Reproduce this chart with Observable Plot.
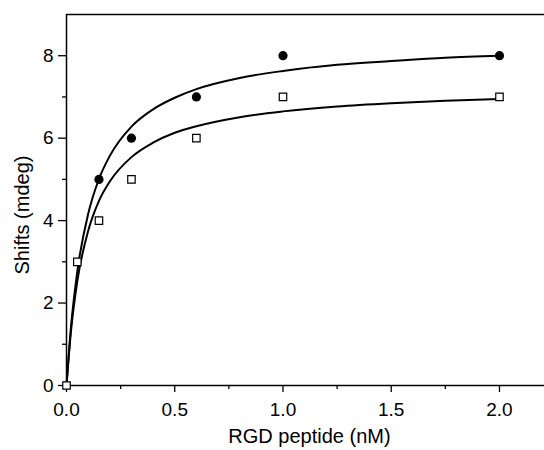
<!DOCTYPE html>
<html>
<head>
<meta charset="utf-8">
<script src="https://cdn.jsdelivr.net/npm/d3@7"></script>
<script src="https://cdn.jsdelivr.net/npm/@observablehq/plot@0.6"></script>
<style>
  html, body { margin: 0; padding: 0; background: white; }
</style>
</head>
<body>
<div id="chart"></div>
<script>
// Measured points
const filledX = [0.15, 0.3, 0.6, 1.0, 2.0];
const filledY = [5, 6, 7, 8, 8];
const openX = [0, 0.05, 0.15, 0.3, 0.6, 1.0, 2.0];
const openY = [0, 3, 4, 5, 6, 7, 7];

// Fitted curves
const curveX =      [0, 0.02, 0.05, 0.1, 0.15, 0.2, 0.3, 0.4, 0.5, 0.6, 0.8, 1.0, 1.25, 1.5, 1.75, 2.0];
const upperCurveY = [0, 1.38, 2.77, 4.16, 5.01, 5.57, 6.28, 6.70, 6.98, 7.19, 7.46, 7.63, 7.78, 7.87, 7.95, 8.00];
const lowerCurveY = [0, 1.28, 2.53, 3.75, 4.48, 4.95, 5.54, 5.89, 6.13, 6.29, 6.51, 6.65, 6.77, 6.85, 6.91, 6.95];

// Ticks
const xMajorTicks = [0, 0.5, 1.0, 1.5, 2.0];
const xTickLabels = ["0.0", "0.5", "1.0", "1.5", "2.0"];
const xMinorTicks = [0.25, 0.75, 1.25, 1.75];
const yMajorTicks = [0, 2, 4, 6, 8];
const yTickLabels = ["0", "2", "4", "6", "8"];
const yMinorTicks = [1, 3, 5, 7];

const xLabel = "RGD peptide (nM)";
const yLabel = "Shifts (mdeg)";

const filled = filledX.map((x, i) => ({x, y: filledY[i]}));
const open = openX.map((x, i) => ({x, y: openY[i]}));
const upper = curveX.map((x, i) => ({x, y: upperCurveY[i]}));
const lower = curveX.map((x, i) => ({x, y: lowerCurveY[i]}));

const chart = Plot.plot({
  width: 544,
  height: 450,
  marginLeft: 66,
  marginRight: 0,
  marginTop: 14,
  marginBottom: 65,
  x: {domain: [0, 2.208]},
  y: {domain: [0, 9]},
  style: {fontFamily: "'Liberation Sans', Arial, sans-serif", fontSize: "19px", color: "black", background: "white"},
  marks: [
    Plot.axisX({ticks: xMajorTicks, tickSize: 7, tickPadding: 10, tickFormat: (d, i) => xTickLabels[i], label: null, strokeWidth: 1.3, fontSize: 19}),
    Plot.axisX({ticks: xMinorTicks, tickSize: 4, tickFormat: () => "", label: null, strokeWidth: 1.3}),
    Plot.axisY({ticks: yMajorTicks, tickSize: 8, tickPadding: 5, tickFormat: (d, i) => yTickLabels[i], label: null, strokeWidth: 1.3, fontSize: 19}),
    Plot.axisY({ticks: yMinorTicks, tickSize: 4, tickFormat: () => "", label: null, strokeWidth: 1.3}),
    Plot.ruleY([0], {stroke: "black", strokeWidth: 1.5}),
    Plot.ruleX([0], {stroke: "black", strokeWidth: 1.5}),
    Plot.ruleY([9], {stroke: "black", strokeWidth: 1.5}),
    Plot.line(upper, {x: "x", y: "y", curve: "monotone-x", stroke: "black", strokeWidth: 2}),
    Plot.line(lower, {x: "x", y: "y", curve: "monotone-x", stroke: "black", strokeWidth: 2}),
    Plot.dot(filled, {x: "x", y: "y", r: 4.6, fill: "black", stroke: "none"}),
    Plot.dot(open, {x: "x", y: "y", symbol: "square", r: 4.2, fill: "white", stroke: "black", strokeWidth: 1.2}),
    Plot.text([xLabel], {frameAnchor: "bottom", textAnchor: "middle", lineAnchor: "middle", dx: 4, dy: 51, text: d => d, fontSize: 20}),
    Plot.text([yLabel], {frameAnchor: "left", textAnchor: "middle", lineAnchor: "middle", dx: -44, dy: 15, rotate: -90, text: d => d, fontSize: 20})
  ]
});
document.getElementById("chart").appendChild(chart);
</script>
</body>
</html>
